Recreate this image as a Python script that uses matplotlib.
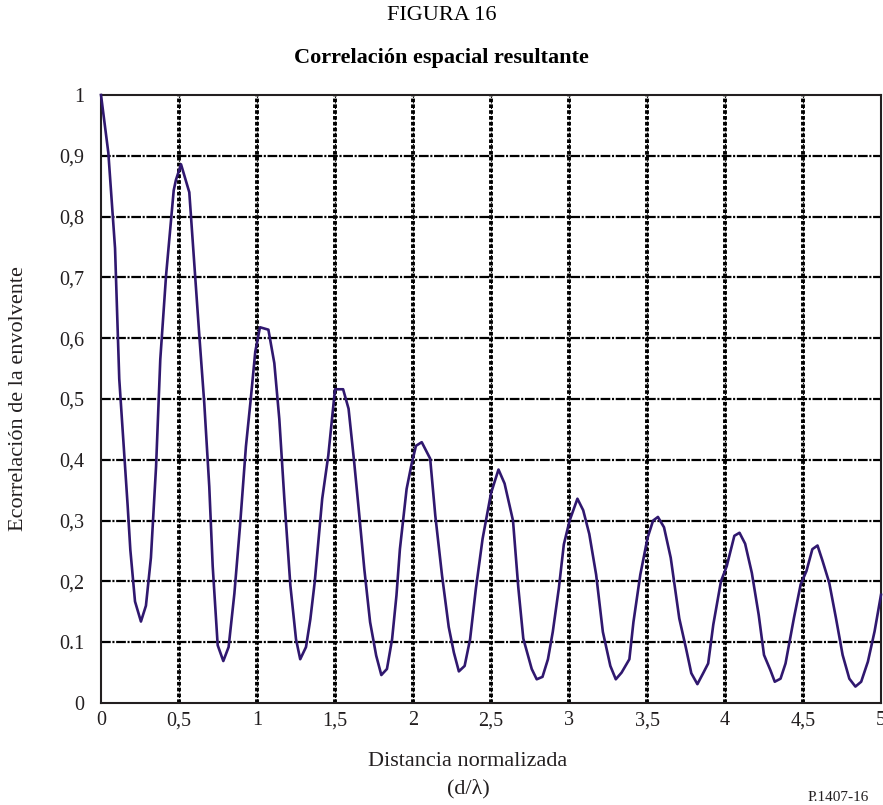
"""
FIGURA 16 - Correlacion espacial resultante (envolvente vs distancia normalizada)
"""

import matplotlib
matplotlib.use("Agg")
import matplotlib.pyplot as plt

# curve vertices
dist = [0.0, 0.047, 0.09, 0.117, 0.171, 0.188, 0.218, 0.256, 0.288, 0.32,
        0.353, 0.38, 0.417, 0.466, 0.48, 0.513, 0.566, 0.598, 0.63, 0.662,
        0.694, 0.716, 0.748, 0.784, 0.818, 0.855, 0.891, 0.929, 0.96, 0.989,
        1.019, 1.073, 1.111, 1.143, 1.175, 1.214, 1.25, 1.277, 1.314, 1.342,
        1.37, 1.418, 1.457, 1.5, 1.552, 1.587, 1.623, 1.656, 1.688, 1.725,
        1.764, 1.797, 1.833, 1.866, 1.894, 1.916, 1.959, 1.991, 2.019, 2.056,
        2.11, 2.143, 2.186, 2.229, 2.262, 2.294, 2.331, 2.366, 2.403, 2.446,
        2.5, 2.548, 2.587, 2.641, 2.675, 2.707, 2.761, 2.793, 2.83, 2.865,
        2.896, 2.935, 2.967, 3.004, 3.054, 3.091, 3.13, 3.174, 3.217, 3.265,
        3.3, 3.337, 3.387, 3.413, 3.457, 3.504, 3.539, 3.57, 3.609, 3.652,
        3.707, 3.75, 3.784, 3.823, 3.86, 3.892, 3.925, 3.974, 4.011, 4.06,
        4.093, 4.129, 4.172, 4.216, 4.25, 4.291, 4.319, 4.356, 4.388, 4.442,
        4.485, 4.522, 4.56, 4.593, 4.625, 4.668, 4.711, 4.754, 4.797, 4.836,
        4.873, 4.916, 4.959, 5.0]
corr = [1.0, 0.905, 0.748, 0.533, 0.324, 0.252, 0.167, 0.134, 0.16, 0.239,
        0.389, 0.565, 0.703, 0.843, 0.86, 0.886, 0.84, 0.722, 0.605, 0.493,
        0.356, 0.225, 0.095, 0.069, 0.092, 0.18, 0.291, 0.422, 0.5, 0.578,
        0.618, 0.614, 0.559, 0.467, 0.337, 0.193, 0.105, 0.072, 0.092, 0.138,
        0.199, 0.336, 0.407, 0.516, 0.516, 0.484, 0.396, 0.308, 0.22, 0.133,
        0.078, 0.046, 0.056, 0.105, 0.177, 0.253, 0.352, 0.393, 0.423, 0.429,
        0.402, 0.308, 0.21, 0.125, 0.083, 0.052, 0.061, 0.105, 0.188, 0.27,
        0.345, 0.384, 0.361, 0.3, 0.19, 0.106, 0.056, 0.039, 0.043, 0.072,
        0.117, 0.189, 0.261, 0.3, 0.336, 0.317, 0.278, 0.211, 0.117, 0.061,
        0.039, 0.05, 0.072, 0.133, 0.211, 0.272, 0.3, 0.306, 0.289, 0.239,
        0.139, 0.09, 0.049, 0.031, 0.049, 0.065, 0.129, 0.2, 0.225, 0.275,
        0.28, 0.262, 0.214, 0.145, 0.079, 0.054, 0.035, 0.04, 0.065, 0.14,
        0.195, 0.217, 0.253, 0.259, 0.234, 0.198, 0.14, 0.079, 0.04, 0.027,
        0.035, 0.068, 0.118, 0.178]

xticks = [0, 0.5, 1, 1.5, 2, 2.5, 3, 3.5, 4, 4.5, 5]
xtick_labels = ["0", "0,5", "1", "1,5", "2", "2,5", "3", "3,5", "4", "4,5", "5"]
yticks = [0, 0.1, 0.2, 0.3, 0.4, 0.5, 0.6, 0.7, 0.8, 0.9, 1]
ytick_labels = ["0", "0.1", "0,2", "0,3", "0,4", "0,5", "0,6", "0,7", "0,8", "0,9", "1"]

plt.rcParams['font.family'] = ['Liberation Serif', 'DejaVu Serif']
plt.rcParams['lines.scale_dashes'] = False
ink = "#231f20"

fig = plt.figure(figsize=(8.83, 8.05), dpi=100)
ax = fig.add_axes([101 / 883, 102 / 805, 780 / 883, 608 / 805])

# grid lines (drawn by hand so each direction gets its own pattern)
for gx in xticks[1:-1]:
    ax.axvline(gx, color="black", lw=2.8, ls=(0, (2.6, 1.6)), zorder=1)
    ax.axvline(gx, color="black", lw=0.8, ls=(0, (1, 1)), zorder=1)
for gy in yticks[1:-1]:
    ax.axhline(gy, color="black", lw=1.6, ls=(0, (7, 1.2, 1.5, 1.2)), zorder=1)

ax.plot(dist, corr, color="#30186f", lw=1.9, zorder=3, clip_on=False)

ax.set_xlim(0, 5)
ax.set_ylim(0, 1)
ax.set_xticks(xticks)
ax.set_xticklabels(xtick_labels)
ax.set_yticks(yticks)
ax.set_yticklabels(ytick_labels)
ax.tick_params(axis="both", length=0, labelsize=14.5, colors=ink)
ax.tick_params(axis="y", pad=12)
ax.tick_params(axis="x", pad=6)
for s in ax.spines.values():
    s.set_linewidth(1.5)
    s.set_color(ink)

fig.text(0.5, 1 - 15 / 805, "FIGURA 16", ha="center", va="center", fontsize=16)
fig.text(0.5, 1 - 58 / 805, "Correlación espacial resultante", ha="center",
         va="center", fontsize=16, fontweight="bold")
fig.text(19 / 883, 1 - 399 / 805, "Ecorrelación de la envolvente", rotation=90,
         ha="center", va="center", fontsize=16, color=ink)
fig.text(468 / 883, 1 - 761 / 805, "Distancia normalizada", ha="center",
         va="center", fontsize=16, color=ink)
fig.text(468 / 883, 1 - 789 / 805, "(d/λ)", ha="center", va="center",
         fontsize=16, color=ink)
fig.text(808 / 883, 0.001, "P.1407-16", ha="left", va="bottom",
         fontsize=11, color=ink)

fig.savefig("out.png", dpi=100)
